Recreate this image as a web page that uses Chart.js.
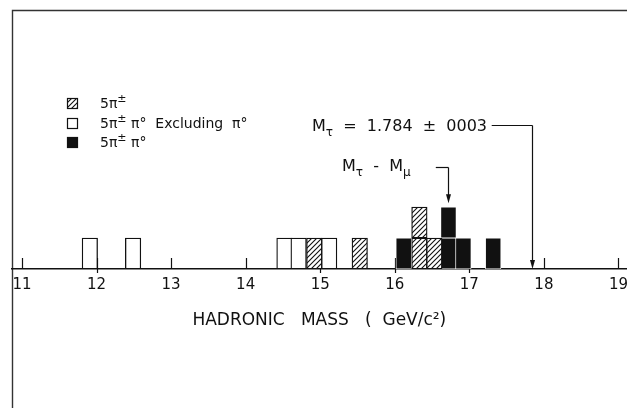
<!DOCTYPE html>
<html>
<head>
<meta charset="utf-8">
<title>Hadronic mass</title>
<script src="https://cdn.jsdelivr.net/npm/chart.js@4.4.1/dist/chart.umd.min.js"></script>
<style>
  html, body { margin: 0; padding: 0; background: #fff; }
  canvas { display: block; }
</style>
</head>
<body>
<canvas id="chart" width="627" height="408"></canvas>
<script>
// Hadronic mass of 5-pion events
// masses in units of 0.1 GeV/c^2, one entry per event (bins about 0.2 wide)

const tickValues = [11, 12, 13, 14, 15, 16, 17, 18, 19];
const tickLabels = ['11', '12', '13', '14', '15', '16', '17', '18', '19'];

const seriesLabels = ['5π±', '5π± π°  Excluding  π°', '5π± π°'];
const hatchedEvents = [14.92, 15.53, 16.33, 16.33, 16.53];   // 5π±
const openEvents = [11.91, 12.49, 14.52, 14.71, 15.12];      // 5π± π° excluding π°
const solidEvents = [16.12, 16.72, 16.72, 16.92, 17.32];     // 5π± π°

const tauMass = 17.84;        // M_tau = 1.784
const tauMinusMu = 16.72;     // M_tau - M_mu

const INK = '#111';
const FONT = '"DejaVu Sans", sans-serif';

// one floating bar per event, stacked when several share a bin
function stackEvents(events) {
  const seen = {};
  return events.map(m => {
    const k = m.toFixed(2);
    const lvl = seen[k] || 0;
    seen[k] = lvl + 1;
    return { x: m, y: [lvl, lvl + 1] };
  });
}

function makeHatch(ctx) {
  const c = document.createElement('canvas');
  c.width = 5; c.height = 5;
  const g = c.getContext('2d');
  g.fillStyle = '#fff';
  g.fillRect(0, 0, 5, 5);
  g.strokeStyle = INK;
  g.lineWidth = 1.1;
  g.beginPath();
  g.moveTo(0, 5); g.lineTo(5, 0);
  g.moveTo(-1, 1); g.lineTo(1, -1);
  g.moveTo(4, 6); g.lineTo(6, 4);
  g.stroke();
  return ctx.createPattern(c, 'repeat');
}

// text with ± as superscript and τ/μ as subscript pieces
function drawRich(ctx, x, y, parts, size) {
  let cx = x;
  ctx.textBaseline = 'alphabetic';
  ctx.textAlign = 'left';
  for (const p of parts) {
    const s = p.sub || p.sup ? Math.round(size * 0.75) : size;
    ctx.font = `${s}px ${FONT}`;
    const dy = p.sub ? size * 0.3 : (p.sup ? -size * 0.45 : 0);
    ctx.fillText(p.t, cx, y + dy);
    cx += ctx.measureText(p.t).width;
  }
  return cx;
}

function splitPlusMinus(text) {
  return text.split(/(±)/).filter(t => t).map(t => t === '±' ? { t, sup: true } : { t });
}

function arrowDown(ctx, x, y0, y1) {
  ctx.beginPath();
  ctx.moveTo(x, y0);
  ctx.lineTo(x, y1 - 6);
  ctx.stroke();
  ctx.beginPath();
  ctx.moveTo(x - 2.5, y1 - 9);
  ctx.lineTo(x + 2.5, y1 - 9);
  ctx.lineTo(x, y1);
  ctx.closePath();
  ctx.fill();
}

const allEvents = hatchedEvents.concat(openEvents, solidEvents);

const decor = {
  id: 'decor',
  beforeDraw(chart) {
    const ctx = chart.ctx;
    ctx.save();
    ctx.fillStyle = '#fff';
    ctx.fillRect(0, 0, chart.width, chart.height);
    // frame
    ctx.strokeStyle = '#333';
    ctx.lineWidth = 1.4;
    ctx.beginPath();
    ctx.moveTo(12.5, chart.height);
    ctx.lineTo(12.5, 10.5);
    ctx.lineTo(chart.width, 10.5);
    ctx.stroke();
    ctx.restore();
  },
  beforeDatasetsDraw(chart) {
    const ctx = chart.ctx, xs = chart.scales.x, base = chart.chartArea.bottom;
    ctx.save();
    ctx.strokeStyle = INK;
    ctx.lineWidth = 1.2;
    tickValues.forEach(v => {
      const px = Math.round(xs.getPixelForValue(v)) + 0.5;
      ctx.beginPath();
      ctx.moveTo(px, base);
      ctx.lineTo(px, base - 11);
      ctx.stroke();
    });
    ctx.restore();
  },
  afterDraw(chart) {
    const ctx = chart.ctx, xs = chart.scales.x, ys = chart.scales.y, base = chart.chartArea.bottom;
    ctx.save();
    ctx.strokeStyle = INK;
    ctx.fillStyle = INK;
    ctx.lineWidth = 1.2;

    // short ticks below the axis where a bar hides the tick
    tickValues.forEach(v => {
      if (!allEvents.some(m => Math.abs(m - v) <= 0.13)) return;
      const px = Math.round(xs.getPixelForValue(v)) + 0.5;
      ctx.beginPath();
      ctx.moveTo(px, base);
      ctx.lineTo(px, base + 4);
      ctx.stroke();
    });

    // M_tau arrow
    const tx = Math.round(xs.getPixelForValue(tauMass)) + 0.5;
    const ty = Math.round(ys.getPixelForValue(4.65)) + 0.5;
    ctx.beginPath();
    ctx.moveTo(xs.getPixelForValue(17.30), ty);
    ctx.lineTo(tx, ty);
    ctx.stroke();
    arrowDown(ctx, tx, ty, base);
    drawRich(ctx, 312, 131, [{ t: 'M' }, { t: 'τ', sub: true }, { t: '  =  1.784  ±  0003' }], 16);

    // M_tau - M_mu arrow
    const mx = Math.round(xs.getPixelForValue(tauMinusMu)) + 0.5;
    const my = Math.round(ys.getPixelForValue(3.29)) + 0.5;
    ctx.beginPath();
    ctx.moveTo(xs.getPixelForValue(16.55), my);
    ctx.lineTo(mx, my);
    ctx.stroke();
    arrowDown(ctx, mx, my, ys.getPixelForValue(2.12));
    drawRich(ctx, 342, 171, [{ t: 'M' }, { t: 'τ', sub: true }, { t: '  -  M' }, { t: 'μ', sub: true }], 16);

    // legend
    const rows = [103, 123, 142];
    chart.data.datasets.forEach((ds, i) => {
      const y = rows[i];
      ctx.fillStyle = ds.backgroundColor;
      ctx.fillRect(67, y - 5, 10, 10);
      ctx.strokeStyle = INK;
      ctx.lineWidth = 1.2;
      ctx.strokeRect(67.5, y - 4.5, 10, 10);
      ctx.fillStyle = INK;
      drawRich(ctx, 100, y + 5, splitPlusMinus(ds.label), 14);
    });
    ctx.restore();
  }
};

const ctx = document.getElementById('chart').getContext('2d');
const hatch = makeHatch(ctx);

const barStyle = {
  borderColor: INK,
  borderWidth: 1.3,
  borderSkipped: false,
  grouped: false,
  barThickness: 15.5
};

new Chart(ctx, {
  type: 'bar',
  data: {
    datasets: [
      Object.assign({ label: seriesLabels[0], data: stackEvents(hatchedEvents), backgroundColor: hatch }, barStyle),
      Object.assign({ label: seriesLabels[1], data: stackEvents(openEvents), backgroundColor: '#fff' }, barStyle),
      Object.assign({ label: seriesLabels[2], data: stackEvents(solidEvents), backgroundColor: INK }, barStyle,
        { borderColor: '#fff', borderWidth: 0.8 })
    ]
  },
  options: {
    responsive: false,
    devicePixelRatio: 1,
    animation: false,
    layout: { padding: { left: 12, top: 10, right: 0, bottom: 0 } },
    plugins: { legend: { display: false }, tooltip: { enabled: false } },
    scales: {
      x: {
        type: 'linear',
        offset: false,
        min: 10.866,
        max: 19.11,
        afterBuildTicks: s => { s.ticks = tickValues.map(v => ({ value: v })); },
        afterFit: s => { s.height = 139; },
        ticks: {
          callback: (v, i) => tickLabels[i],
          color: INK,
          font: { family: FONT, size: 15 },
          padding: -1,
          maxRotation: 0,
          autoSkip: false
        },
        grid: { display: false },
        border: { display: true, color: INK, width: 1.5 },
        title: {
          display: true,
          text: 'HADRONIC   MASS   (  GeV/c²)',
          color: INK,
          font: { family: FONT, size: 17 },
          padding: { top: 0, bottom: 77 }
        }
      },
      y: { display: false, min: 0, max: 8.35 }
    }
  },
  plugins: [decor]
});
</script>
</body>
</html>
